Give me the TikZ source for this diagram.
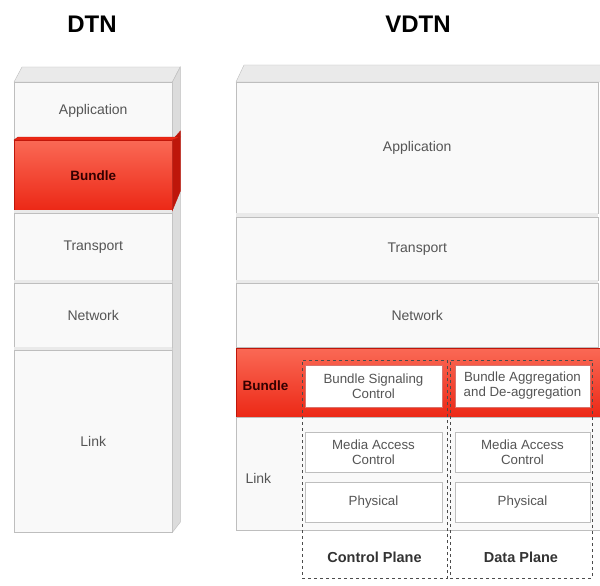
\documentclass[tikz,border=0pt]{standalone}
\usepackage{fontspec}
\setmainfont{Liberation Sans}
\definecolor{layfill}{RGB}{249,249,249}
\definecolor{layline}{RGB}{190,190,190}
\definecolor{sideface}{RGB}{220,220,220}
\definecolor{topface}{RGB}{234,234,234}
\definecolor{bred}{RGB}{236,40,22}
\definecolor{bredlight}{RGB}{250,105,85}
\definecolor{breddark}{RGB}{190,22,10}
\definecolor{txtgray}{RGB}{85,85,85}

\tikzset{
    layer/.style={draw=layline, fill=layfill, anchor=north west, inner sep=0pt,
        text=txtgray, font=\fontsize{14}{16}\selectfont},
    bundlelayer/.style={layer, draw=breddark, top color=bredlight, bottom color=bred,
        text=black!80!red, font=\bfseries\fontsize{13.5}{16}\selectfont},
    subbox/.style={draw=layline, fill=white, text=txtgray, inner sep=0pt,
        minimum height=40pt, align=center, font=\fontsize{13.3}{15}\selectfont},
    plane/.style={draw=black!70, dashed, thin, anchor=north west, inner sep=0pt},
    planelbl/.style={font=\bfseries\fontsize{14.5}{17}\selectfont, text=black!80},
    title/.style={font=\bfseries\fontsize{24}{28}\selectfont}
}

\begin{document}
\begin{tikzpicture}[x=1pt, y=-1pt]
    \useasboundingbox[fill=white] (0,0) rectangle (600,586);

    % Titles
    \node[title] (tDTN) at (92,24) {DTN};
    \node[title] (tVDTN) at (418,24) {VDTN};

    % DTN stack
    \node[layer, minimum width=158pt, minimum height=58pt] (dApp) at (14,82) {Application};
    \node[bundlelayer, minimum width=158pt, minimum height=70pt] (dBun) at (14,140) {Bundle};
    \node[layer, minimum width=158pt, minimum height=67pt] (dTra) at (14,213) {Transport};
    \node[layer, minimum width=158pt, minimum height=64pt] (dNet) at (14,283) {Network};
    \node[layer, minimum width=158pt, minimum height=182pt] (dLnk) at (14,350) {Link};
    \fill[topface] (dBun.south west) rectangle (dTra.north east);
    \fill[topface] (dTra.south west) rectangle (dNet.north east);
    \fill[topface] (dNet.south west) rectangle (dLnk.north east);
    \draw[layline, fill=topface] (dApp.north west) -- ++(8,-15) -- ++(158,0)
        -- (dApp.north east) -- cycle;
    \draw[layline, fill=sideface] (dApp.north east) -- ++(8,-15)
        -- ++(0,455) -- (dLnk.south east) -- cycle;
    \draw[breddark, fill=breddark] (dBun.north east) -- ++(8,-9)
        -- ++(0,60) -- (dBun.south east) -- cycle;
    \draw[breddark, fill=bred] (dBun.north west) -- ++(4,-3) -- ++(162,0)
        -- (dBun.north east) -- cycle;

    % VDTN stack
    \node[layer, minimum width=362pt, minimum height=131pt] (vApp) at (236,82) {Application};
    \node[layer, minimum width=362pt, minimum height=63pt] (vTra) at (236,217) {Transport};
    \node[layer, minimum width=362pt, minimum height=64pt] (vNet) at (236,283) {Network};
    \node[bundlelayer, minimum width=370pt, minimum height=69pt] (vBun) at (236,348) {};
    \node[layer, minimum width=370pt, minimum height=113pt] (vLnk) at (236,417) {};
    \fill[topface] (vApp.south west) rectangle (vTra.north east);
    \fill[topface] (vTra.south west) rectangle (vNet.north east);
    \draw[layline, fill=topface] (vApp.north west) -- ++(8,-17) -- ++(370,0)
        -- (606,82) -- cycle;
    \node[anchor=west, text=black!80!red, font=\bfseries\fontsize{13.5}{16}\selectfont]
        (vBunLbl) at (239,386) {Bundle};
    \node[anchor=west, text=txtgray, font=\fontsize{14}{16}\selectfont]
        (vLnkLbl) at (242,478) {Link};

    % Control plane
    \node[plane, minimum width=145pt, minimum height=218pt] (cPlane) at (302,360) {};
    \node[subbox, draw=breddark!60, minimum width=137pt, minimum height=42pt] (cSig) at (373.5,386)
        {Bundle Signaling\\Control};
    \node[subbox, minimum width=137pt] (cMac) at (373.5,452) {Media Access\\Control};
    \node[subbox, minimum width=137pt] (cPhy) at (373.5,502) {Physical};
    \node[planelbl] (cLbl) at (374.5,557) {Control Plane};

    % Data plane
    \node[plane, minimum width=142pt, minimum height=218pt] (dPlane) at (450,360) {};
    \node[subbox, draw=breddark!60, minimum width=135pt, minimum height=42pt] (dAgg) at (522.5,386)
        {Bundle Aggregation\\and De-aggregation};
    \node[subbox, minimum width=135pt] (dMac) at (522.5,452) {Media Access\\Control};
    \node[subbox, minimum width=135pt] (dPhy) at (522.5,502) {Physical};
    \node[planelbl] (dLbl) at (521,557) {Data Plane};
\end{tikzpicture}
\end{document}
